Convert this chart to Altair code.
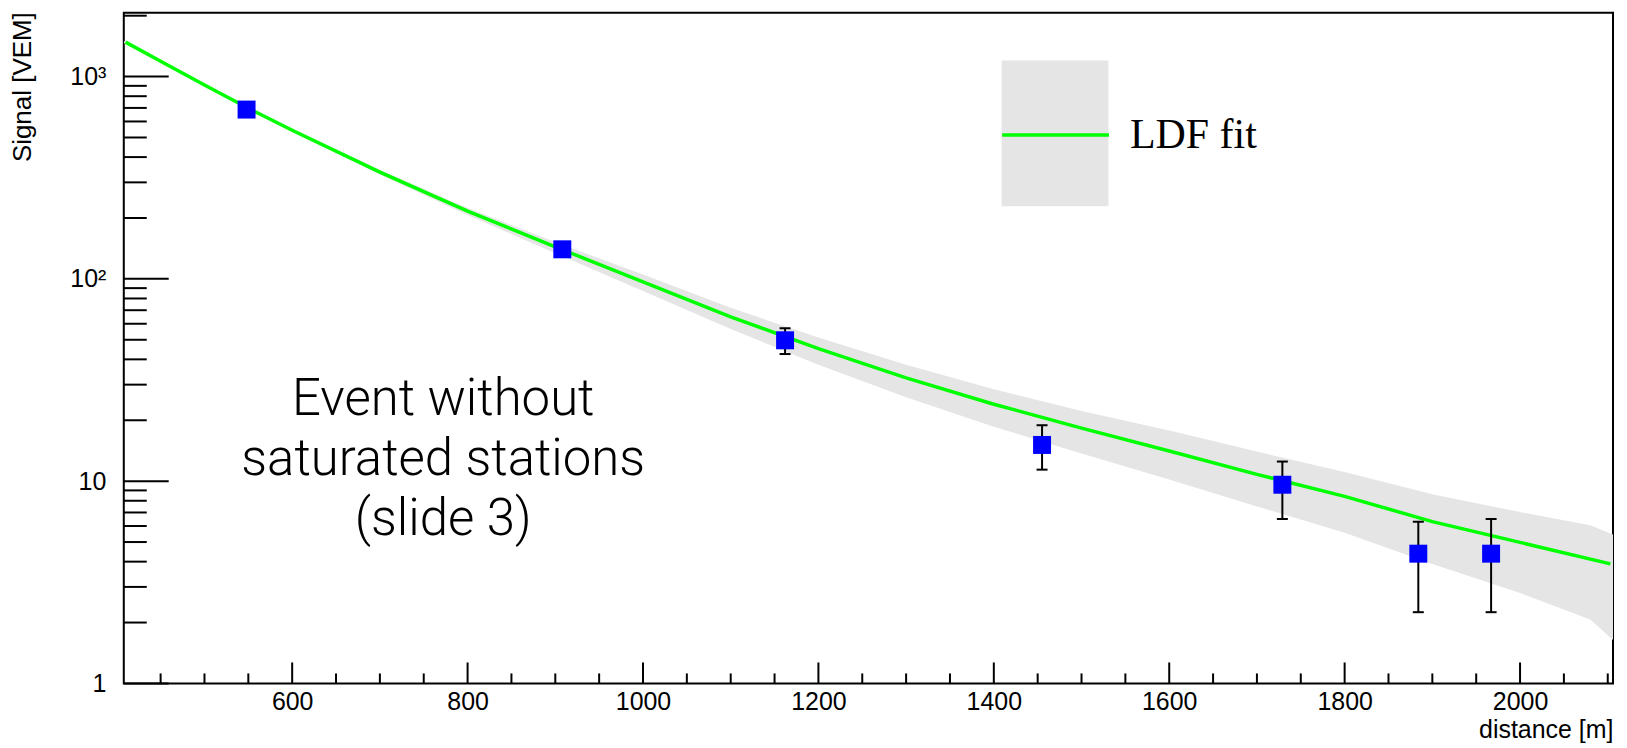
import altair as alt
import pandas as pd

# ---------------- data ----------------
# fitted LDF curve
fit_distance = [410, 450, 500, 550, 600, 700, 800, 900, 1000, 1100, 1200, 1300, 1400, 1500, 1600, 1700, 1800, 1900, 2000, 2103]
fit_signal = [1480, 1190, 908, 697, 543, 337, 216, 144, 96.6, 64.9, 45.2, 32.4, 24.0, 18.3, 14.1, 10.8, 8.41, 6.31, 4.98, 3.90]

# uncertainty band of the fit
band_distance = [408, 450, 500, 600, 700, 800, 900, 1000, 1100, 1200, 1300, 1400, 1500, 1600, 1700, 1800, 1900, 2000, 2080, 2106]
band_upper = [1500, 1202, 920, 553, 346, 224, 152, 105, 71.9, 51.3, 37.6, 28.5, 22.2, 17.8, 14.0, 11.1, 8.61, 7.03, 6.05, 5.45]
band_lower = [1465, 1175, 895, 533, 328, 207, 134, 87.1, 56.5, 37.6, 26.0, 18.6, 13.7, 10.2, 7.50, 5.56, 3.89, 2.80, 2.07, 1.64]

# station signals
station_distance = [548, 908, 1162, 1455, 1729, 1884, 1967]
station_signal = [687, 140, 49.7, 15.1, 9.6, 4.38, 4.38]
station_err_low = [665, 134, 42.5, 11.4, 6.5, 2.25, 2.25]
station_err_high = [710, 146, 57.0, 18.9, 12.5, 6.3, 6.5]

# axis ticks / labels
y_major = [1, 10, 100, 1000]
y_minor = [2, 3, 4, 5, 6, 7, 8, 9, 20, 30, 40, 50, 60, 70, 80, 90,
           200, 300, 400, 500, 600, 700, 800, 900, 2000]
x_major = [600, 800, 1000, 1200, 1400, 1600, 1800, 2000]
x_minor = [450, 500, 550, 650, 700, 750, 850, 900, 950, 1050, 1100, 1150,
           1250, 1300, 1350, 1450, 1500, 1550, 1650, 1700, 1750, 1850, 1900,
           1950, 2050, 2100]

legend_fit_label = "LDF fit"
annotation_lines = ["Event without", "saturated stations", "(slide 3)"]
x_title = "distance [m]"
y_title = "Signal [VEM]"

# ---------------- chart ----------------
W, H = 1492, 672

xs = alt.Scale(domain=[408, 2106], nice=False, zero=False)
ys = alt.Scale(type="log", domain=[1, 2070], nice=False)

x_axis = alt.Axis(
    values=x_major, format="d", title=x_title, grid=False, ticks=False, tickSize=0, domain=False,
    labelFont="Liberation Sans", labelFontSize=25, labelColor="black", labelPadding=6,
    labelBaseline="top", labelFlush=False, labelOverlap=False,
    titleFont="Liberation Sans", titleFontSize=25, titleFontWeight="normal", titleColor="black",
    titleX=W, titleY=46, titleAlign="right", titleBaseline="middle",
)
y_axis = alt.Axis(
    values=y_major, title=y_title, grid=False, ticks=False, tickSize=0, domain=False,
    labelExpr="datum.value == 1 ? '1' : datum.value == 10 ? '10' : datum.value == 100 ? '10\u00b2' : '10\u00b3'",
    labelFont="Liberation Sans", labelFontSize=25, labelColor="black", labelPadding=18,
    labelBaseline="middle", labelFlush=False, labelOverlap=False,
    titleFont="Liberation Sans", titleFontSize=26, titleFontWeight="normal", titleColor="black",
    titleX=-101, titleY=-1, titleAngle=270, titleAlign="right", titleBaseline="middle",
)


def X(field):
    return alt.X(field, scale=xs, axis=x_axis, title=x_title)


def Y(field):
    return alt.Y(field, scale=ys, axis=y_axis, title=y_title)


band_df = pd.DataFrame({"d": band_distance, "lo": band_lower, "hi": band_upper, "band": " "})
band = alt.Chart(band_df).mark_area(clip=True, opacity=1).encode(
    x=X("d:Q"),
    y=Y("lo:Q"),
    y2="hi:Q",
    fill=alt.Fill(
        "band:N",
        scale=alt.Scale(domain=[" "], range=["#e5e5e5"]),
        legend=alt.Legend(
            orient="none", legendX=860, legendY=48, title=None, padding=0,
            symbolType="M-0.733,-1L0.733,-1L0.733,1L-0.733,1Z", symbolSize=21316,
            symbolStrokeWidth=0, symbolOpacity=1, labelExpr="''", labelFontSize=1,
        ),
    ),
)

fit_df = pd.DataFrame({"d": fit_distance, "s": fit_signal, "series": legend_fit_label})
fit = alt.Chart(fit_df).mark_line(clip=True, strokeWidth=3.5).encode(
    x=X("d:Q"),
    y=Y("s:Q"),
    stroke=alt.Stroke(
        "series:N",
        scale=alt.Scale(domain=[legend_fit_label], range=["#00ff00"]),
        legend=alt.Legend(
            orient="none", legendX=878, legendY=67, title=None, padding=0,
            symbolType="stroke", symbolSize=11449, symbolStrokeWidth=3.5,
            labelFont="Liberation Serif", labelFontSize=42, labelColor="black",
            labelOffset=19, labelLimit=400,
        ),
    ),
)

st_df = pd.DataFrame({
    "d": station_distance, "s": station_signal,
    "lo": station_err_low, "hi": station_err_high,
})
err = alt.Chart(st_df).mark_rule(color="black", strokeWidth=2).encode(
    x=X("d:Q"), y=Y("lo:Q"), y2="hi:Q",
)
cap_lo = alt.Chart(st_df).mark_point(shape="M-1,0L1,0", size=121, filled=False,
                                     color="black", strokeWidth=2, opacity=1).encode(
    x=X("d:Q"), y=Y("lo:Q"),
)
cap_hi = alt.Chart(st_df).mark_point(shape="M-1,0L1,0", size=121, filled=False,
                                     color="black", strokeWidth=2, opacity=1).encode(
    x=X("d:Q"), y=Y("hi:Q"),
)
pts = alt.Chart(st_df).mark_square(size=324, color="#0000ff", opacity=1).encode(
    x=X("d:Q"), y=Y("s:Q"),
)

# inward ROOT-style ticks
ymaj = alt.Chart(pd.DataFrame({"v": y_major})).mark_rule(color="black", strokeWidth=2).encode(
    y=Y("v:Q"), x=alt.value(0), x2=alt.value(45))
ymin = alt.Chart(pd.DataFrame({"v": y_minor})).mark_rule(color="black", strokeWidth=2).encode(
    y=Y("v:Q"), x=alt.value(0), x2=alt.value(23))
xmaj = alt.Chart(pd.DataFrame({"v": x_major})).mark_rule(color="black", strokeWidth=2).encode(
    x=X("v:Q"), y=alt.value(H), y2=alt.value(H - 21))
xmin = alt.Chart(pd.DataFrame({"v": x_minor})).mark_rule(color="black", strokeWidth=2).encode(
    x=X("v:Q"), y=alt.value(H), y2=alt.value(H - 10))

note = alt.Chart(pd.DataFrame({"t": ["\n".join(annotation_lines)]})).mark_text(
    font="Roboto", fontWeight=300, fontSize=51, align="center", baseline="alphabetic",
    lineBreak="\n", lineHeight=60, color="black",
).encode(x=alt.value(320), y=alt.value(403), text="t:N")

chart = alt.layer(
    band, fit, err, cap_lo, cap_hi, pts, ymaj, ymin, xmaj, xmin, note
).resolve_scale(
    fill="independent", stroke="independent"
).properties(
    width=W, height=H,
    autosize=alt.AutoSizeParams(type="none"),
    padding={"left": 116, "top": 4, "right": 6, "bottom": 62},
    background="white",
).configure_view(
    stroke="black", strokeWidth=2
)

chart.save("out.html", embed_options={"renderer": "svg", "actions": False})
